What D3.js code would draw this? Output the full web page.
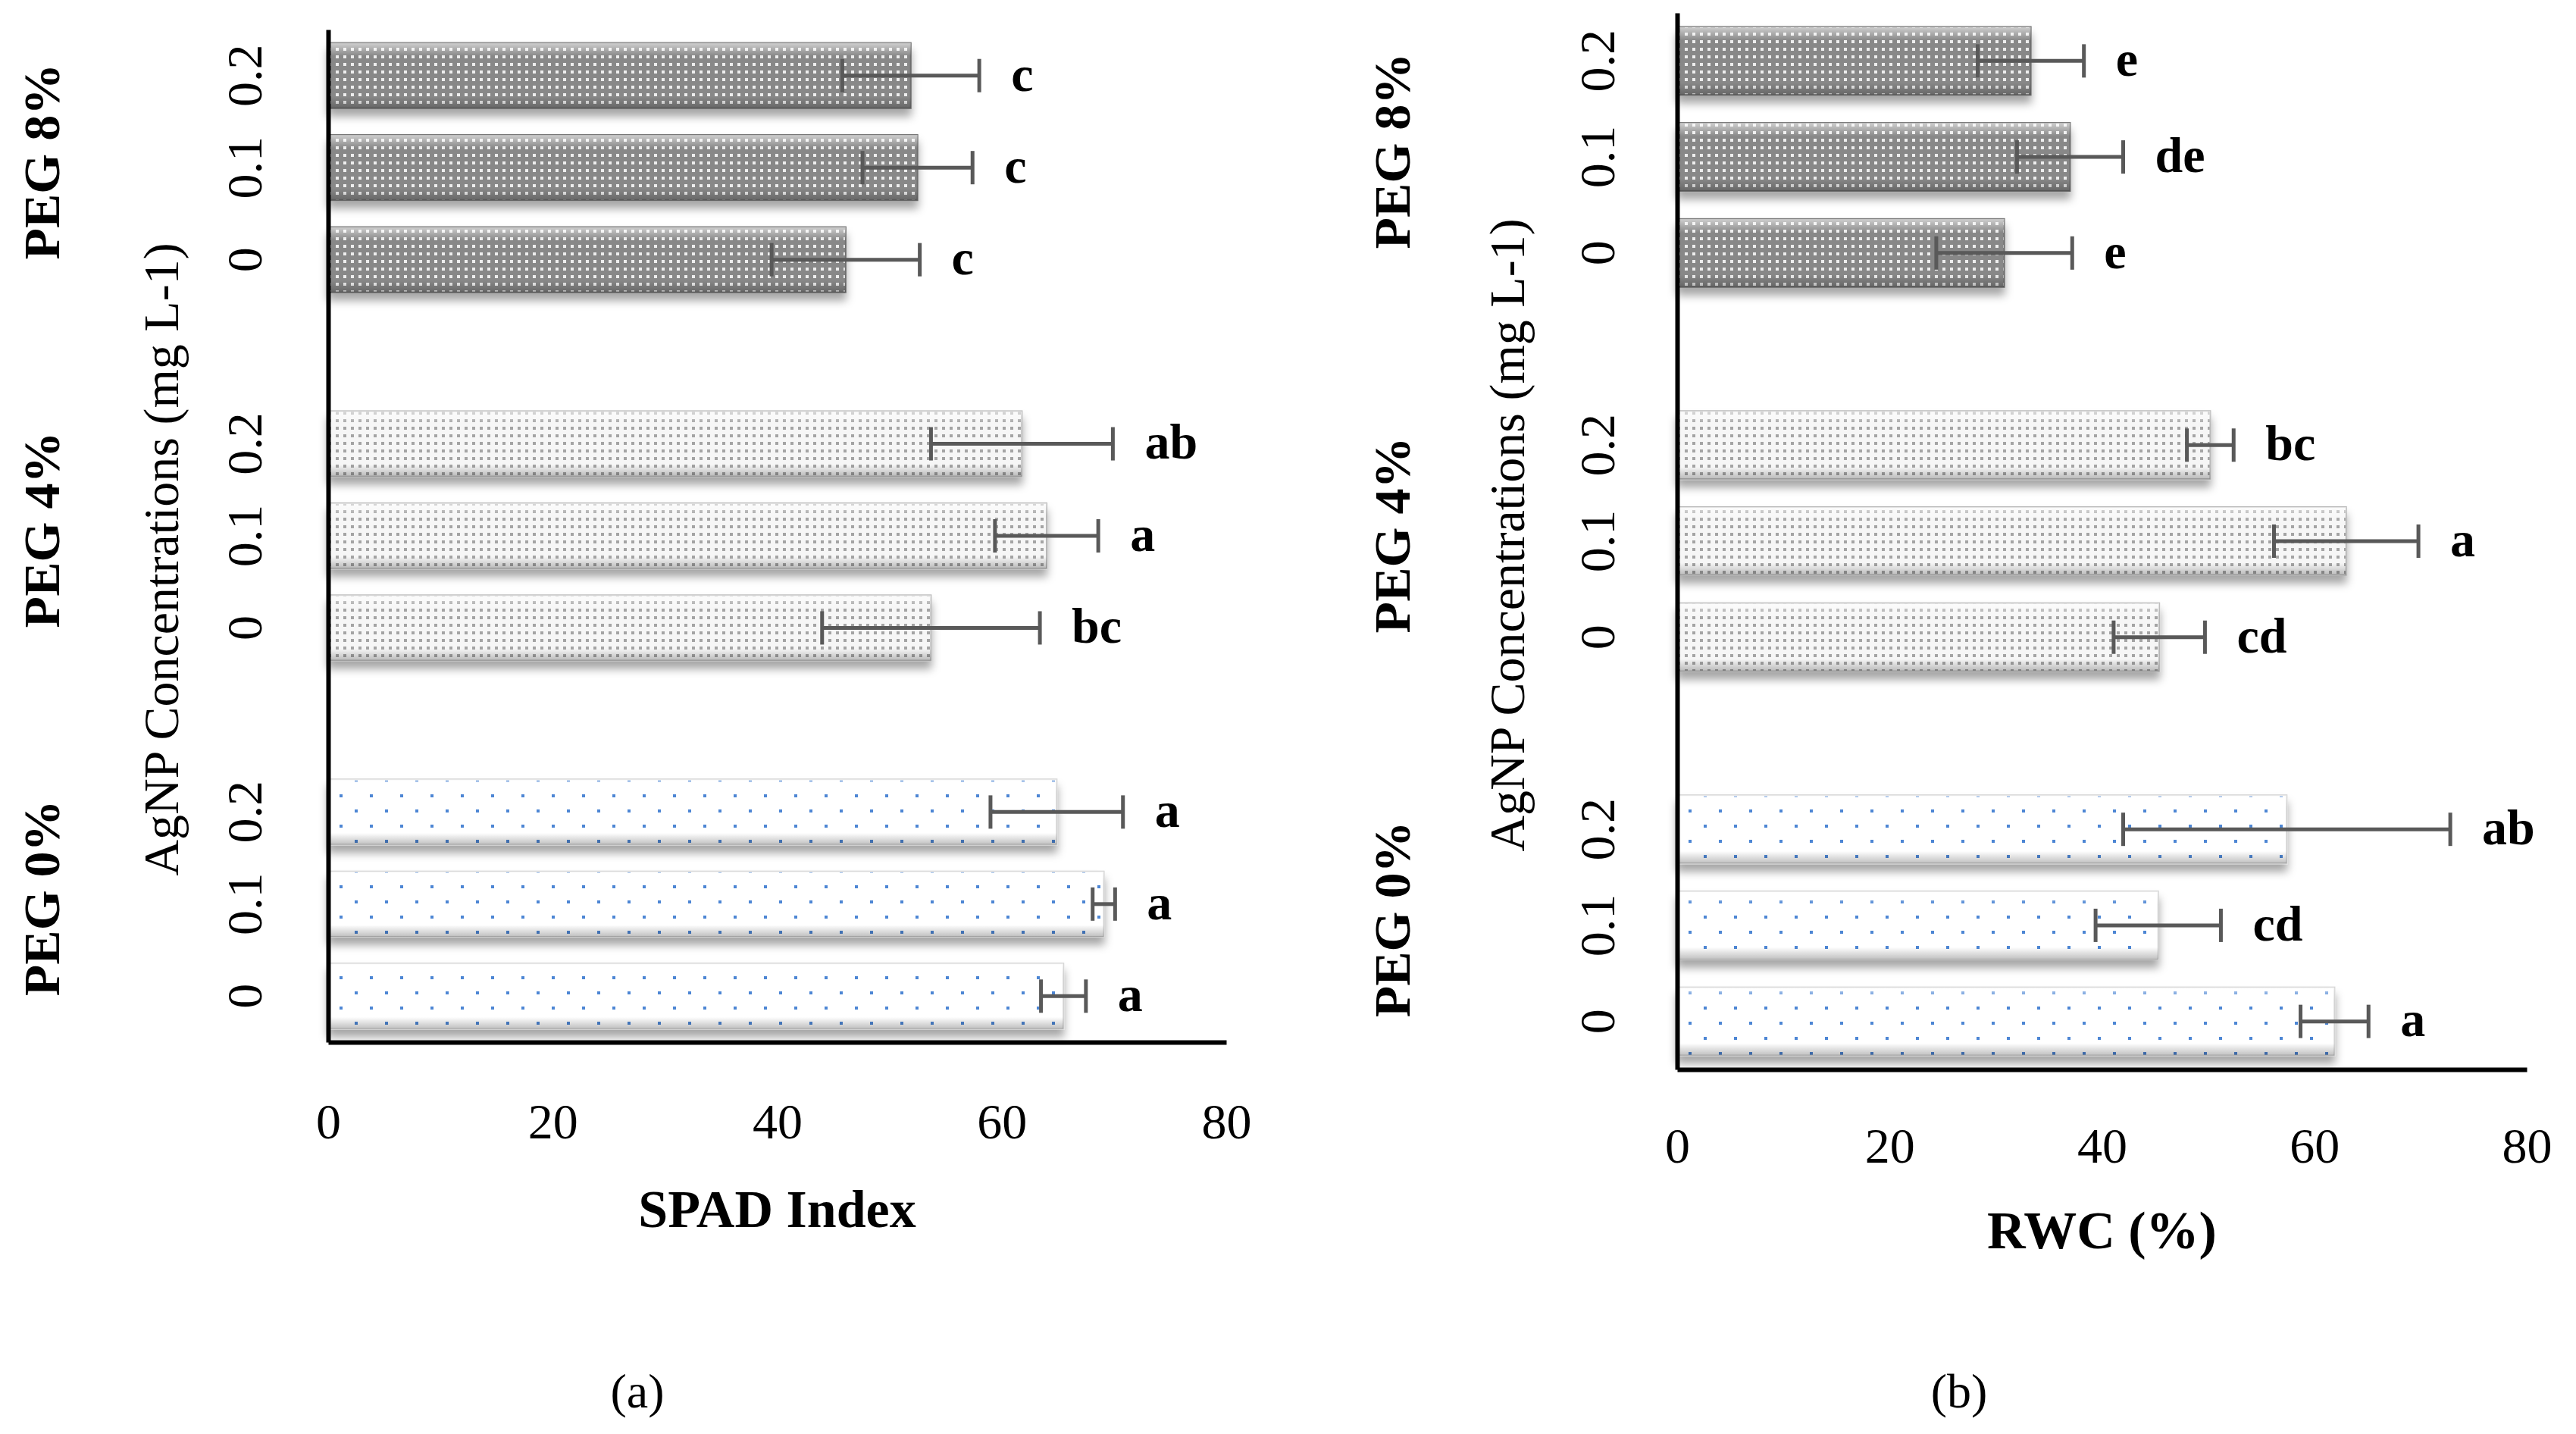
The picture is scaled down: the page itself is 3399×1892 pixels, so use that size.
<!DOCTYPE html>
<html>
<head>
<meta charset="utf-8">
<script src="https://cdn.jsdelivr.net/npm/d3@7/dist/d3.min.js"></script>
<style>
  body { margin: 0; background: #fff; }
  text { font-family: "Liberation Serif", "Times New Roman", serif; fill: #000; }
</style>
</head>
<body>
<div id="chart"></div>
<script>
// groups top to bottom, as in the figure
var pegLevels = ["PEG 8%", "PEG 4%", "PEG 0%"];
var agnpLevels = ["0.2", "0.1", "0"];
var xTicks = [0, 20, 40, 60, 80];

// SPAD index (panel a), order: PEG 8% (0.2, 0.1, 0), PEG 4% (...), PEG 0% (...)
var spadMean = [51.9, 52.5, 46.1, 61.8, 64.0, 53.7, 64.9, 69.1, 65.5];
var spadErr = [6.1, 4.9, 6.6, 8.1, 4.6, 9.7, 5.9, 1.0, 2.0];
var spadLetters = ["c", "c", "c", "ab", "a", "bc", "a", "a", "a"];

// RWC % (panel b)
var rwcMean = [33.3, 37.0, 30.8, 50.2, 63.0, 45.4, 57.4, 45.3, 61.9];
var rwcErr = [5.0, 5.0, 6.4, 2.2, 6.8, 4.3, 15.4, 5.9, 3.2];
var rwcLetters = ["e", "de", "e", "bc", "a", "cd", "ab", "cd", "a"];

var W = 3399, H = 1892;

var svg = d3.select("#chart").append("svg")
    .attr("width", W)
    .attr("height", H);

var defs = svg.append("defs");

// fills: dark grey with white dots, light grey with grey dots, white with blue dots
var p8 = defs.append("pattern").attr("id", "pat0")
    .attr("patternUnits", "userSpaceOnUse").attr("width", 10).attr("height", 10);
p8.append("rect").attr("width", 10).attr("height", 10).attr("fill", "#888888");
p8.append("rect").attr("x", 3).attr("y", 3).attr("width", 4).attr("height", 4).attr("fill", "#eeeeee");

var p4 = defs.append("pattern").attr("id", "pat1")
    .attr("patternUnits", "userSpaceOnUse").attr("width", 10).attr("height", 10);
p4.append("rect").attr("width", 10).attr("height", 10).attr("fill", "#f6f6f6");
p4.append("rect").attr("x", 3).attr("y", 3).attr("width", 4).attr("height", 4).attr("fill", "#a4a4a4");

var p0 = defs.append("pattern").attr("id", "pat2")
    .attr("patternUnits", "userSpaceOnUse").attr("width", 40).attr("height", 40);
p0.append("rect").attr("width", 40).attr("height", 40).attr("fill", "#ffffff");
p0.append("rect").attr("x", 8).attr("y", 8).attr("width", 4).attr("height", 4).attr("fill", "#4d86d4");
p0.append("rect").attr("x", 28).attr("y", 28).attr("width", 4).attr("height", 4).attr("fill", "#4d86d4");

var barStroke = ["#6e6e6e", "#b8b8b8", "#d2d2d2"];

// bevel look: light top, darker bottom edge
var grad = defs.append("linearGradient").attr("id", "shade")
    .attr("x1", 0).attr("y1", 0).attr("x2", 0).attr("y2", 1);
grad.append("stop").attr("offset", "0%").attr("stop-color", "#fff").attr("stop-opacity", 0.6);
grad.append("stop").attr("offset", "20%").attr("stop-color", "#fff").attr("stop-opacity", 0);
grad.append("stop").attr("offset", "82%").attr("stop-color", "#000").attr("stop-opacity", 0);
grad.append("stop").attr("offset", "100%").attr("stop-color", "#000").attr("stop-opacity", 0.25);

var shadow = defs.append("filter").attr("id", "shadow")
    .attr("x", "-5%").attr("y", "-30%").attr("width", "110%").attr("height", "180%");
shadow.append("feDropShadow")
    .attr("dx", 0).attr("dy", 10).attr("stdDeviation", 6)
    .attr("flood-color", "#000").attr("flood-opacity", 0.35);

function drawPanel(o) {
    var rows = [];
    var domain = [];
    pegLevels.forEach(function (peg, i) {
        agnpLevels.forEach(function (ag, j) {
            var k = i * agnpLevels.length + j;
            var key = peg + "|" + ag;
            domain.push(key);
            rows.push({key: key, peg: i, ag: ag, value: o.mean[k], err: o.err[k], letter: o.letters[k]});
        });
        if (i < pegLevels.length - 1) domain.push("gap" + i);
    });

    var x = d3.scaleLinear().domain([0, 80]).range([o.left, o.right]);
    var y = d3.scaleBand().domain(domain).range([o.top, o.bottom])
        .paddingInner(0.29).paddingOuter(0.145);

    var g = svg.append("g");

    var bars = g.selectAll(".bar")
        .data(rows)
        .enter().append("g")
        .attr("class", "bar")
        .attr("filter", "url(#shadow)");
    bars.append("rect")
        .attr("x", x(0))
        .attr("y", function (d) { return y(d.key); })
        .attr("width", function (d) { return x(d.value) - x(0); })
        .attr("height", y.bandwidth())
        .attr("fill", function (d) { return "url(#pat" + d.peg + ")"; })
        .attr("stroke", function (d) { return barStroke[d.peg]; })
        .attr("stroke-width", 2);
    bars.append("rect")
        .attr("x", x(0))
        .attr("y", function (d) { return y(d.key); })
        .attr("width", function (d) { return x(d.value) - x(0); })
        .attr("height", y.bandwidth())
        .attr("fill", "url(#shade)");

    // error bars
    var eb = g.selectAll(".err")
        .data(rows)
        .enter().append("g")
        .attr("class", "err")
        .attr("stroke", "#595959")
        .attr("stroke-width", 5);
    eb.append("line")
        .attr("x1", function (d) { return x(d.value - d.err); })
        .attr("x2", function (d) { return x(d.value + d.err); })
        .attr("y1", function (d) { return y(d.key) + y.bandwidth() / 2; })
        .attr("y2", function (d) { return y(d.key) + y.bandwidth() / 2; });
    [-1, 1].forEach(function (s) {
        eb.append("line")
            .attr("x1", function (d) { return x(d.value + s * d.err); })
            .attr("x2", function (d) { return x(d.value + s * d.err); })
            .attr("y1", function (d) { return y(d.key) + y.bandwidth() / 2 - 22; })
            .attr("y2", function (d) { return y(d.key) + y.bandwidth() / 2 + 22; });
    });

    // significance letters
    g.selectAll(".letter")
        .data(rows)
        .enter().append("text")
        .attr("class", "letter")
        .attr("x", function (d) { return x(d.value + d.err) + 42; })
        .attr("y", function (d) { return y(d.key) + y.bandwidth() / 2; })
        .attr("dy", "0.3em")
        .attr("font-size", 66)
        .attr("font-weight", "bold")
        .text(function (d) { return d.letter; });

    // x axis
    var xa = g.append("g")
        .attr("transform", "translate(0," + o.bottom + ")")
        .call(d3.axisBottom(x).tickValues(xTicks).tickSize(0).tickPadding(o.xPad));
    xa.select(".domain").attr("stroke", "#000").attr("stroke-width", 6);
    xa.selectAll("text").attr("font-size", 66).attr("font-family", "Liberation Serif").attr("fill", "#000");

    // y axis, rotated tick labels
    var ya = g.append("g")
        .attr("transform", "translate(" + o.left + ",0)")
        .call(d3.axisLeft(y)
            .tickValues(domain.filter(function (k) { return k.indexOf("gap") < 0; }))
            .tickSize(0)
            .tickFormat(function (k) { return k.split("|")[1]; }));
    ya.select(".domain").attr("stroke", "#000").attr("stroke-width", 6);
    ya.selectAll("text")
        .attr("x", 0)
        .attr("y", -(o.left - o.tickX))
        .attr("dy", "0.35em")
        .attr("transform", "rotate(-90)")
        .attr("text-anchor", "middle")
        .attr("font-size", 66)
        .attr("font-family", "Liberation Serif")
        .attr("fill", "#000");

    // group labels centred on the middle bar of each group
    g.selectAll(".peg")
        .data(pegLevels)
        .enter().append("text")
        .attr("class", "peg")
        .attr("transform", function (p) {
            return "translate(" + o.pegX + "," + (y(p + "|" + agnpLevels[1]) + y.bandwidth() / 2 - 8) + ") rotate(-90)";
        })
        .attr("dy", "0.35em")
        .attr("text-anchor", "middle")
        .attr("font-size", 68)
        .attr("font-weight", "bold")
        .text(function (p) { return p; });

    g.append("text")
        .attr("transform", "translate(" + o.agX + "," + o.agY + ") rotate(-90)")
        .attr("dy", "0.35em")
        .attr("text-anchor", "middle")
        .attr("font-size", 66)
        .text("AgNP Concentrations (mg L-1)");

    g.append("text")
        .attr("x", (o.left + o.right) / 2)
        .attr("y", o.titleY)
        .attr("dy", "0.35em")
        .attr("text-anchor", "middle")
        .attr("font-size", 70)
        .attr("font-weight", "bold")
        .text(o.title);

    g.append("text")
        .attr("x", o.capX)
        .attr("y", 1835)
        .attr("dy", "0.35em")
        .attr("text-anchor", "middle")
        .attr("font-size", 64)
        .text(o.caption);
}

drawPanel({
    mean: spadMean, err: spadErr, letters: spadLetters,
    left: 433, right: 1618, top: 39, bottom: 1375,
    xPad: 80, tickX: 322, pegX: 54, agX: 212, agY: 738,
    title: "SPAD Index", titleY: 1594, caption: "(a)", capX: 841
});

drawPanel({
    mean: rwcMean, err: rwcErr, letters: rwcLetters,
    left: 2213, right: 3334, top: 17, bottom: 1411,
    xPad: 76, tickX: 2107, pegX: 1836, agX: 1988, agY: 706,
    title: "RWC (%)", titleY: 1622, caption: "(b)", capX: 2585
});
</script>
</body>
</html>
